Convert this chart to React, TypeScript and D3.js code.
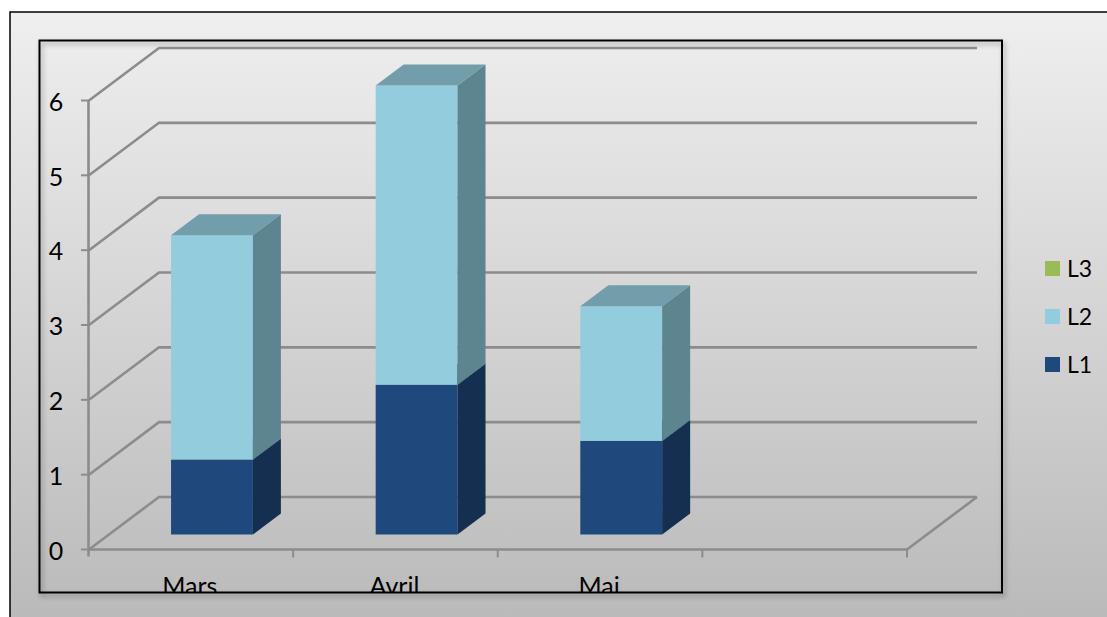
import React, { useEffect, useRef } from "react";
import * as d3 from "d3";

const categories = ["Mars", "Avril", "Mai", ""];
const seriesNames = ["L1", "L2", "L3"];
const l1Values = [1, 2, 1.25, 0];
const l2Values = [3, 4, 1.8, 0];
const l3Values = [0, 0, 0, 0];
const yTicks = [0, 1, 2, 3, 4, 5, 6];
const legendOrder = ["L3", "L2", "L1"];

const frontColors: Record<string, string> = { L1: "#1f497d", L2: "#93cddd", L3: "#9bbb59" };
const sideColors: Record<string, string> = { L1: "#142f50", L2: "#5d8590", L3: "#637838" };
const topColors: Record<string, string> = { L1: "#1a3d69", L2: "#729dab", L3: "#7d9648" };

const width = 1107;
const height = 617;
const fontFamily = "Lato, Carlito, 'Open Sans', sans-serif";

const App: React.FC = () => {
  const svg = useRef<SVGSVGElement>(null);

  useEffect(() => {
    const root = d3.select(svg.current);
    root.selectAll("*").remove();

    const defs = root.append("defs");
    const grad = defs
      .append("linearGradient")
      .attr("id", "bg")
      .attr("x1", 0)
      .attr("x2", 0)
      .attr("y1", 0)
      .attr("y2", 1);
    grad.append("stop").attr("offset", "0%").attr("stop-color", "#efefef");
    grad.append("stop").attr("offset", "100%").attr("stop-color", "#b9b9b9");

    const shadow = defs
      .append("filter")
      .attr("id", "shadow")
      .attr("x", "-2%")
      .attr("y", "-2%")
      .attr("width", "104%")
      .attr("height", "104%");
    shadow
      .append("feDropShadow")
      .attr("dx", 2)
      .attr("dy", 3)
      .attr("stdDeviation", 2.5)
      .attr("flood-color", "#000")
      .attr("flood-opacity", 0.35);

    defs
      .append("clipPath")
      .attr("id", "plot")
      .append("rect")
      .attr("x", 39)
      .attr("y", 40)
      .attr("width", 963)
      .attr("height", 552);

    // outer frame runs off the right and bottom of the page
    root
      .append("rect")
      .attr("x", 10)
      .attr("y", 12)
      .attr("width", width)
      .attr("height", height)
      .attr("fill", "url(#bg)")
      .attr("stroke", "#000")
      .attr("stroke-width", 1.5);

    // inner plot frame
    root
      .append("rect")
      .attr("x", 39.5)
      .attr("y", 40.5)
      .attr("width", 962.5)
      .attr("height", 552)
      .attr("fill", "none")
      .attr("stroke", "#000")
      .attr("stroke-width", 2)
      .attr("filter", "url(#shadow)");

    const x = d3.scaleBand().domain(categories).range([88.5, 907]);
    const y = d3.scaleLinear().domain([0, 6]).range([549.5, 100.5]);

    const depthX = 70;
    const depthY = -52.5;
    const barDepthX = 28;
    const barDepthY = -21;
    const barBase = 15; // bars stand a little behind the front edge of the floor
    const barW = x.bandwidth() * 0.4;

    const gridColor = "#8c8c8c";
    const grid = root.append("g").attr("fill", "none").attr("stroke", gridColor);

    grid
      .selectAll("path.wall")
      .data(yTicks)
      .join("path")
      .attr("class", "wall")
      .attr("stroke-width", 2.6)
      .attr("d", (d) => {
        const p = d3.path();
        p.moveTo(89, y(d));
        p.lineTo(89 + depthX, y(d) + depthY);
        p.lineTo(977, y(d) + depthY);
        return p.toString();
      });

    // floor front edge and its right side
    const floor = d3.path();
    floor.moveTo(88, y(0));
    floor.lineTo(907, y(0));
    floor.lineTo(977, y(0) + depthY);
    grid.append("path").attr("d", floor.toString()).attr("stroke-width", 2.6);

    // value axis
    grid
      .append("line")
      .attr("x1", 88.5)
      .attr("x2", 88.5)
      .attr("y1", y(6))
      .attr("y2", y(0) + 7)
      .attr("stroke-width", 2.6);
    grid
      .selectAll("line.ytick")
      .data(yTicks)
      .join("line")
      .attr("class", "ytick")
      .attr("x1", 81)
      .attr("x2", 89)
      .attr("y1", (d) => y(d))
      .attr("y2", (d) => y(d))
      .attr("stroke-width", 2);

    // category ticks
    const xTickPositions = categories.map((c) => x(c)! + x.bandwidth());
    grid
      .selectAll("line.xtick")
      .data(xTickPositions)
      .join("line")
      .attr("class", "xtick")
      .attr("x1", (d) => d)
      .attr("x2", (d) => d)
      .attr("y1", y(0))
      .attr("y2", y(0) + 8)
      .attr("stroke-width", 2);

    root
      .append("g")
      .attr("font-family", fontFamily)
      .attr("font-size", 25)
      .attr("fill", "#000")
      .selectAll("text")
      .data(yTicks)
      .join("text")
      .attr("x", 56)
      .attr("y", (d) => y(d) + 1.5)
      .attr("dy", "0.35em")
      .attr("text-anchor", "middle")
      .text((d) => String(d));

    root
      .append("g")
      .attr("clip-path", "url(#plot)")
      .attr("font-family", fontFamily)
      .attr("font-size", 25)
      .attr("fill", "#000")
      .selectAll("text")
      .data(categories)
      .join("text")
      .attr("x", (d) => x(d)! + x.bandwidth() * 0.495)
      .attr("y", 595)
      .attr("text-anchor", "middle")
      .text((d) => d);

    // stacked 3D bars
    const rows = categories.map((c, i) => ({
      category: c,
      L1: l1Values[i],
      L2: l2Values[i],
      L3: l3Values[i],
    }));
    const stacked = d3.stack<any>().keys(seriesNames)(rows);
    const bars = root.append("g");

    stacked.forEach((layer) => {
      const key = layer.key;
      layer.forEach((seg: any) => {
        if (seg[1] - seg[0] <= 0) return;
        const x0 = x(seg.data.category)! + x.bandwidth() * 0.4 + 0.7;
        const x1 = x0 + barW;
        const yTop = y(seg[1]) - barBase;
        const yBot = y(seg[0]) - barBase;
        bars
          .append("rect")
          .attr("x", x0)
          .attr("y", yTop)
          .attr("width", barW)
          .attr("height", yBot - yTop)
          .attr("fill", frontColors[key]);
        const side = d3.path();
        side.moveTo(x1, yTop);
        side.lineTo(x1 + barDepthX, yTop + barDepthY);
        side.lineTo(x1 + barDepthX, yBot + barDepthY);
        side.lineTo(x1, yBot);
        side.closePath();
        bars.append("path").attr("d", side.toString()).attr("fill", sideColors[key]);
        const top = d3.path();
        top.moveTo(x0, yTop);
        top.lineTo(x0 + barDepthX, yTop + barDepthY);
        top.lineTo(x1 + barDepthX, yTop + barDepthY);
        top.lineTo(x1, yTop);
        top.closePath();
        bars.append("path").attr("d", top.toString()).attr("fill", topColors[key]);
      });
    });

    // legend
    const legendY = d3.scalePoint().domain(legendOrder).range([268.5, 364.5]);
    const legend = root
      .append("g")
      .selectAll("g")
      .data(legendOrder)
      .join("g")
      .attr("transform", (d) => `translate(1045, ${legendY(d)})`);
    legend
      .append("rect")
      .attr("x", 0)
      .attr("y", -7.5)
      .attr("width", 15)
      .attr("height", 15)
      .attr("fill", (d) => frontColors[d]);
    legend
      .append("text")
      .attr("x", 22)
      .attr("dy", "0.35em")
      .attr("font-family", fontFamily)
      .attr("font-size", 23)
      .attr("fill", "#000")
      .text((d) => d);
  }, []);

  return (
    <svg
      ref={svg}
      width={width}
      height={height}
      style={{ position: "fixed", left: 0, top: 0, display: "block" }}
    ></svg>
  );
};

export default App;
